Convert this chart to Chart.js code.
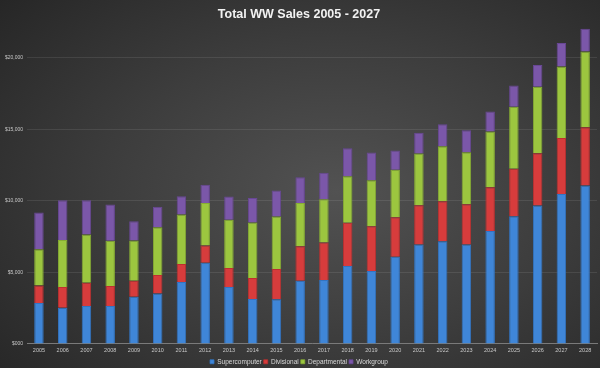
<!DOCTYPE html>
<html>
<head>
<meta charset="utf-8">
<script src="https://cdn.jsdelivr.net/npm/chart.js@4"></script>
<style>
  html, body { margin: 0; padding: 0; }
  body {
    width: 600px; height: 368px; overflow: hidden;
    background: radial-gradient(ellipse 75% 80% at 56% 52%, #525252 0%, #3d3d3d 50%, #262626 100%);
  }
  #wrap { width: 600px; height: 368px; position: relative; }
</style>
</head>
<body>
<div id="wrap"><canvas id="canvas_ww"></canvas></div>
<script>
var years = ["2005","2006","2007","2008","2009","2010","2011","2012","2013","2014","2015","2016",
             "2017","2018","2019","2020","2021","2022","2023","2024","2025","2026","2027","2028"];

var supercomputer = [2860,2530,2650,2650,3300,3530,4320,5670,3970,3140,3120,4420,
                     4460,5440,5090,6090,6950,7180,6950,7900,8930,9670,10480,11070];
var divisional    = [1230,1440,1620,1390,1120,1280,1260,1210,1330,1460,2110,2410,
                     2630,3020,3140,2770,2740,2790,2810,3050,3320,3650,3910,4080];
var departmental  = [2530,3300,3380,3170,2810,3350,3460,2970,3370,3890,3670,3020,
                     3020,3260,3210,3320,3610,3840,3630,3900,4330,4650,5000,5280];
var workgroup     = [2560,2770,2390,2530,1350,1420,1280,1280,1630,1710,1820,1800,
                     1860,1950,1930,1330,1460,1550,1550,1400,1480,1530,1650,1590];

function makeSet(label, data, color, edge) {
  return {
    label: label,
    data: data,
    backgroundColor: color,
    borderColor: edge,
    borderWidth: { left: 1, right: 1, top: 1, bottom: 0 },
    borderSkipped: false,
    barPercentage: 0.4,
    categoryPercentage: 1.0
  };
}

var ctx = document.getElementById("canvas_ww");
var wwChart = new Chart(ctx, {
  type: 'bar',
  data: {
    labels: years,
    datasets: [
      makeSet("Supercomputer", supercomputer, "#3f86d8", "#3274c2"),
      makeSet("Divisional", divisional, "#d73c3c", "#bd3030"),
      makeSet("Departmental", departmental, "#9cc63f", "#86ad33"),
      makeSet("Workgroup", workgroup, "#7b57a9", "#684795")
    ]
  },
  options: {
    responsive: true,
    maintainAspectRatio: false,
    animation: false,
    layout: { padding: { left: 1, right: 3, top: 0, bottom: -7 } },
    plugins: {
      title: {
        display: true,
        text: 'Total WW Sales 2005 - 2027',
        color: '#f2f2f2',
        font: { family: 'Liberation Sans', size: 12.5, weight: 'bold' },
        padding: { top: 7, bottom: 0 }
      },
      legend: {
        position: 'bottom',
        labels: {
          color: '#d9d9d9',
          font: { family: 'Liberation Sans', size: 6.5 },
          boxWidth: 4,
          boxHeight: 4,
          padding: 2
        }
      },
      tooltip: { enabled: false }
    },
    scales: {
      x: {
        stacked: true,
        grid: { display: false, drawTicks: false },
        border: { display: true, color: '#7a7a7a' },
        ticks: {
          color: '#c8c8c8',
          font: { family: 'Liberation Sans', size: 5.5 },
          maxRotation: 0,
          autoSkip: false,
          padding: 3
        }
      },
      y: {
        stacked: true,
        min: 0,
        max: 22500,
        grid: { color: 'rgba(255,255,255,0.09)', drawTicks: false },
        border: { display: false },
        ticks: {
          stepSize: 2500,
          autoSkip: false,
          color: '#c8c8c8',
          padding: 4,
          font: { family: 'Liberation Sans', size: 5 },
          callback: function (v) {
            if (v % 5000 !== 0) return null;
            return v === 0 ? '$000' : '$' + v.toLocaleString('en-US');
          }
        }
      }
    }
  }
});
</script>
</body>
</html>
